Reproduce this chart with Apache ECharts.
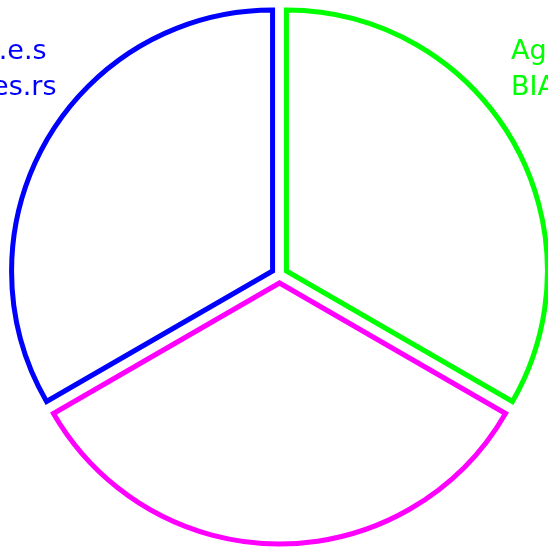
<!DOCTYPE html>
<html>
<head>
<meta charset="utf-8">
<script src="https://cdn.jsdelivr.net/npm/echarts@6/dist/echarts.min.js"></script>
<style>html,body{margin:0;padding:0;background:#fff;}#c{width:548px;height:550px;}</style>
</head>
<body>
<div id="c"></div>
<script>
var names = ['Run.e.s\nBytes.rs', 'Magenta\nSlice', 'Ag data\nBIAS data'];
var values = [1, 1, 1];
var colors = ['#0000ff', '#ff00ff', '#00ff00'];
var labelSpots = [[-53, 34], [279, 600], [511, 34]];

var chart = echarts.init(document.getElementById('c'), null, {renderer: 'canvas'});
chart.setOption({
  animation: false,
  graphic: names.map(function (n, i) {
    return {
      type: 'text',
      x: labelSpots[i][0],
      y: labelSpots[i][1],
      silent: true,
      style: {
        text: n,
        fill: colors[i],
        font: '27px "DejaVu Sans"',
        lineHeight: 36,
        textAlign: 'left',
        textVerticalAlign: 'top'
      }
    };
  }),
  series: [{
    type: 'pie',
    center: [279.5, 275],
    radius: 261,
    startAngle: 90,
    clockwise: false,
    selectedMode: 'multiple',
    selectedOffset: 8,
    emphasis: {disabled: true},
    labelLine: {show: false},
    label: {show: false},
    data: names.map(function (n, i) {
      return {
        name: n,
        value: values[i],
        selected: true,
        itemStyle: {color: 'rgba(0,0,0,0)', borderColor: colors[i], borderWidth: 5, borderJoin: 'miter'}
      };
    })
  }]
});
</script>
</body>
</html>
